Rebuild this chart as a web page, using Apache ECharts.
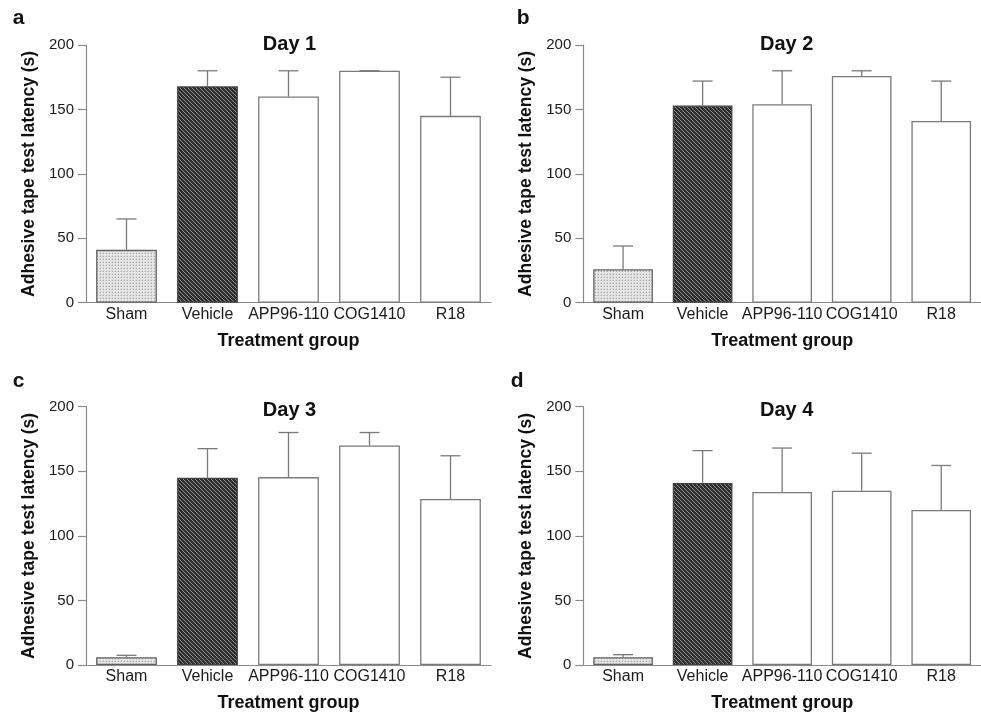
<!DOCTYPE html>
<html>
<head>
<meta charset="utf-8">
<script src="https://cdn.jsdelivr.net/npm/echarts@6/dist/echarts.min.js"></script>
<style>
html,body{margin:0;padding:0;background:#fff;}
#chart{width:981px;height:718px;}
</style>
</head>
<body>
<div id="chart"></div>
<script>
// ---- data ----
const categories = ['Sham', 'Vehicle', 'APP96-110', 'COG1410', 'R18'];
const dayTitles = ['Day 1', 'Day 2', 'Day 3', 'Day 4'];
const panelLetters = ['a', 'b', 'c', 'd'];
const day1Mean  = [41, 168, 160, 180, 145];
const day1Upper = [65, 180, 180, 180, 175];
const day2Mean  = [26, 153, 154, 176, 141];
const day2Upper = [44, 172, 180, 180, 172];
const day3Mean  = [6, 145, 145.5, 170, 128.5];
const day3Upper = [7.5, 167.5, 180, 180, 162];
const day4Mean  = [6, 141, 134, 135, 120];
const day4Upper = [8, 166, 168, 164, 154.5];
const yMin = 0, yMax = 200, yInterval = 50;
const yAxisTitle = 'Adhesive tape test latency (s)';
const xAxisTitle = 'Treatment group';

const means = [day1Mean, day2Mean, day3Mean, day4Mean];
const uppers = [day1Upper, day2Upper, day3Upper, day4Upper];

// ---- fill patterns ----
function stipple() {
  const c = document.createElement('canvas');
  c.width = 3; c.height = 3;
  const g = c.getContext('2d');
  g.fillStyle = '#e6e6e6'; g.fillRect(0, 0, 3, 3);
  g.fillStyle = '#a9a9a9'; g.fillRect(1, 1, 1, 1);
  g.fillStyle = '#cfcfcf'; g.fillRect(0, 1, 1, 1); g.fillRect(1, 0, 1, 1);
  return c;
}
function hatch() {
  const c = document.createElement('canvas');
  c.width = 4; c.height = 4;
  const g = c.getContext('2d');
  g.fillStyle = '#2e2e2e'; g.fillRect(0, 0, 4, 4);
  g.fillStyle = '#8e8e8e';
  for (let i = 0; i < 4; i++) g.fillRect(i, i, 1, 1);
  return c;
}
const shamFill = { image: stipple(), repeat: 'repeat' };
const vehicleFill = { image: hatch(), repeat: 'repeat' };

const FONT = '"Liberation Sans", Arial, sans-serif';
const AXIS_COLOR = '#8a8a8a';

// ---- layout ----
const grids = [
  { left: 86, top: 45, width: 405, height: 257.7 },
  { left: 583.3, top: 45, width: 404, height: 257.7 },
  { left: 86, top: 406.7, width: 405, height: 258.3 },
  { left: 583.3, top: 406.7, width: 404, height: 258.3 }
];
const titlePos = [[289.5, 44.5], [786.7, 44.5], [289.5, 410.3], [786.7, 410.3]];
const letterPos = [[12.7, 18.5], [516.7, 18.5], [12.7, 381], [510.7, 381]];

const option = {
  animation: false,
  backgroundColor: '#fff',
  grid: grids.map(g => Object.assign({ containLabel: false }, g)),
  xAxis: grids.map((g, i) => ({
    type: 'category',
    gridIndex: i,
    data: categories,
    boundaryGap: true,
    axisLine: { lineStyle: { color: AXIS_COLOR, width: 1.2 } },
    axisTick: { show: false },
    axisLabel: { color: '#1a1a1a', fontFamily: FONT, fontSize: 16, margin: 4, interval: 0 },
    name: xAxisTitle,
    nameLocation: 'middle',
    nameGap: 29,
    nameTextStyle: { color: '#111', fontFamily: FONT, fontSize: 18, fontWeight: 'bold' }
  })),
  yAxis: grids.map((g, i) => ({
    type: 'value',
    gridIndex: i,
    min: yMin, max: yMax, interval: yInterval,
    splitLine: { show: false },
    axisLine: { show: true, lineStyle: { color: AXIS_COLOR, width: 1.2 } },
    axisTick: { show: true, length: 8, lineStyle: { color: AXIS_COLOR, width: 1.2 } },
    axisLabel: { color: '#1a1a1a', fontFamily: FONT, fontSize: 15, margin: 12 },
    name: yAxisTitle,
    nameLocation: 'middle',
    nameGap: 48,
    nameTextStyle: { color: '#111', fontFamily: FONT, fontSize: 17.5, fontWeight: 'bold' }
  })),
  graphic: [
    ...titlePos.map((p, i) => ({
      type: 'text', x: p[0], y: p[1], silent: true,
      style: { text: dayTitles[i], font: 'bold 20px ' + FONT, fill: '#111', align: 'center', verticalAlign: 'middle' }
    })),
    ...letterPos.map((p, i) => ({
      type: 'text', x: p[0], y: p[1], silent: true,
      style: { text: panelLetters[i], font: 'bold 21px ' + FONT, fill: '#111', align: 'left', verticalAlign: 'middle' }
    }))
  ],
  series: []
};

function barItems(vals) {
  return vals.map((v, j) => {
    let color = '#ffffff', border = '#7a7a7a';
    if (j === 0) { color = shamFill; border = '#606060'; }
    if (j === 1) { color = vehicleFill; border = '#404040'; }
    return { value: v, itemStyle: { color: color, borderColor: border, borderWidth: 1.3 } };
  });
}

function errorRender(params, api) {
  const idx = api.value(0);
  const base = api.coord([idx, api.value(1)]);
  const top = api.coord([idx, api.value(2)]);
  const half = 10;
  const st = { stroke: '#7a7a7a', lineWidth: 1.3 };
  return {
    type: 'group',
    children: [
      { type: 'line', shape: { x1: base[0], y1: base[1], x2: top[0], y2: top[1] }, style: st },
      { type: 'line', shape: { x1: top[0] - half, y1: top[1], x2: top[0] + half, y2: top[1] }, style: st }
    ]
  };
}

for (let i = 0; i < 4; i++) {
  option.series.push({
    type: 'bar',
    xAxisIndex: i, yAxisIndex: i,
    barCategoryGap: '25%',
    data: barItems(means[i]),
    z: 2
  });
  option.series.push({
    type: 'custom',
    xAxisIndex: i, yAxisIndex: i,
    renderItem: errorRender,
    encode: { x: 0, y: [1, 2] },
    data: categories.map((c, j) => [j, means[i][j], uppers[i][j]]),
    z: 1
  });
}

const chart = echarts.init(document.getElementById('chart'), null, { renderer: 'canvas' });
chart.setOption(option);
</script>
</body>
</html>
